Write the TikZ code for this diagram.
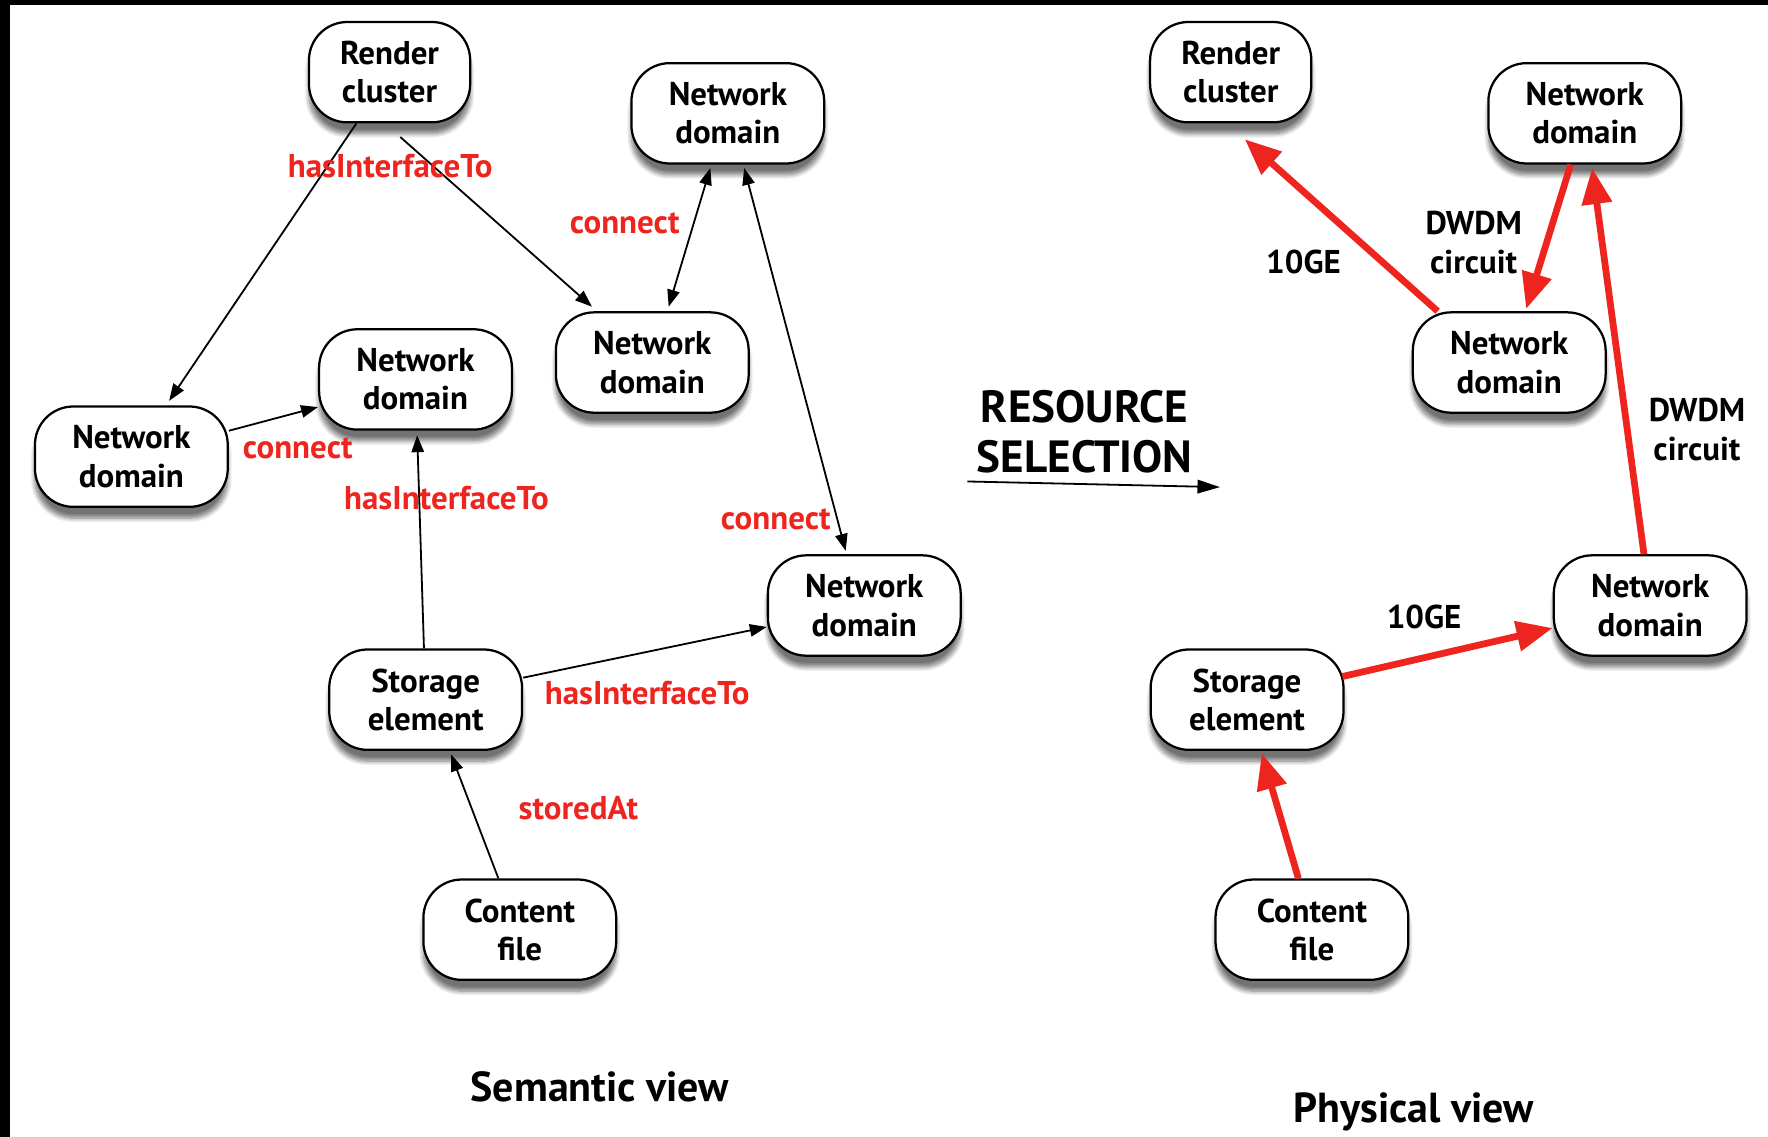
\documentclass[tikz,border=0pt]{standalone}
\usepackage{fontspec}
\setmainfont{PT Sans}
\usetikzlibrary{arrows.meta,calc,shadows.blur}
\definecolor{myred}{RGB}{238,36,30}
\begin{document}
\begin{tikzpicture}[x=0.5pt,y=-0.5pt,
  box/.style={draw, line width=1pt, fill=white, rounded corners=17pt,
    minimum width=85.5pt, minimum height=44.5pt, align=center, inner sep=0pt,
    font=\fontsize{14.6}{17}\selectfont\bfseries,
    blur shadow={shadow xshift=0pt, shadow yshift=-5pt, shadow opacity=55, shadow blur steps=8}},
  narrow/.style={minimum width=71.5pt},
  sem/.style={-{Triangle[length=7.5pt,width=5.5pt]}, line width=0.8pt},
  semboth/.style={{Triangle[length=7.5pt,width=5.5pt]}-{Triangle[length=7.5pt,width=5.5pt]}, line width=0.8pt},
  phys/.style={-{Triangle[length=16pt,width=13pt]}, line width=3pt, draw=myred},
  lbl/.style={text=myred, font=\fontsize{14.6}{17}\selectfont\bfseries, inner sep=0pt},
  plbl/.style={font=\fontsize{14.6}{17}\selectfont\bfseries, align=center, inner sep=0pt},
  big/.style={font=\fontsize{20}{22}\selectfont\bfseries, align=center, inner sep=0pt},
  title/.style={font=\fontsize{18.6}{22}\selectfont\bfseries, inner sep=0pt}]
\useasboundingbox (0,0) rectangle (1568,1008);
\fill[black] (0,0) rectangle (1568,4.5);
\fill[black] (0,0) rectangle (8.5,1008);

% ---------- Semantic view ----------
\node[box,narrow] (rcL) at (345.5,64) {Render\\cluster};
\node[box] (ndT) at (645.5,100.5) {Network\\domain};
\node[box] (ndM) at (578.5,321.5) {Network\\domain};
\node[box] (ndC) at (368.5,336.5) {Network\\domain};
\node[box] (ndL) at (116.5,405) {Network\\domain};
\node[box] (ndR) at (766.5,537) {Network\\domain};
\node[box] (seL) at (377.5,620.5) {Storage\\element};
\node[box] (cfL) at (461,824.5) {Content\\file};

\draw[sem] ($(rcL.south)+(-29.5,0)$) -- ($(ndL.north)+(33.5,-4)$);
\draw[sem] ($(rcL.south)+(9.5,12)$) -- ($(ndM.north)+(-53.5,-4)$);
\draw[semboth] ($(ndT.south)+(-15.5,3)$) -- ($(ndM.north)+(14.5,-4)$);
\draw[semboth] ($(ndT.south)+(14.5,3)$) -- ($(ndR.north)+(-16.5,-3)$);
\draw[sem] ($(ndL.east)+(0,-23)$) -- ($(ndC.west)+(0,24.5)$);
\draw[sem] ($(seL.north)+(-1.5,0)$) -- ($(ndC.south)+(1.5,4)$);
\draw[sem] ($(seL.east)+(0,-19.5)$) -- ($(ndR.west)+(0,19)$);
\draw[sem] ($(cfL.north)+(-19,0)$) -- ($(seL.south)+(22.5,3)$);

\node[lbl] (l1) at (346,147) {hasInterfaceTo};
\node[lbl] (l2) at (554,198) {connect};
\node[lbl] (l3) at (264,398) {connect};
\node[lbl] (l4) at (396,442) {hasInterfaceTo};
\node[lbl] (l5) at (688,461) {connect};
\node[lbl] (l6) at (574,615) {hasInterfaceTo};
\node[lbl] (l7) at (513,717) {storedAt};

% ---------- Middle ----------
\node[big] (rs) at (962,383) {RESOURCE\\SELECTION};
\coordinate (ma) at (858,427);
\coordinate (mb) at (1082,432);
\draw[-{Triangle[length=10pt,width=6pt]}, line width=0.8pt] (ma) -- (mb);

% ---------- Physical view ----------
\node[box,narrow] (rcR) at (1091.5,64) {Render\\cluster};
\node[box] (ndRT) at (1405.5,100.5) {Network\\domain};
\node[box] (ndRM) at (1338.5,321.5) {Network\\domain};
\node[box] (ndRR) at (1463.5,537) {Network\\domain};
\node[box] (seR) at (1106,620.5) {Storage\\element};
\node[box] (cfR) at (1163.5,824.5) {Content\\file};

\draw[phys] ($(ndRM.north)+(-63.5,0)$) -- ($(rcR.south)+(12.5,14)$);
\draw[phys] ($(ndRT.south)+(-12.5,0)$) -- ($(ndRM.north)+(15,-2)$);
\draw[phys] ($(ndRR.north)+(-5.5,0)$) -- ($(ndRT.south)+(6.5,3)$);
\draw[phys] ($(seR.east)+(-2,-20.5)$) -- ($(ndRR.west)+(0,20)$);
\draw[phys] ($(cfR.north)+(-12,0)$) -- ($(seR.south)+(13,2)$);

\node[plbl] (p1) at (1156,232) {10GE};
\node[plbl] (p2) at (1307,215) {DWDM\\circuit};
\node[plbl] (p3) at (1505,381) {DWDM\\circuit};
\node[plbl] (p4) at (1263,547) {10GE};

% ---------- Titles ----------
\node[title] (t1) at (532,964) {Semantic view};
\node[title] (t2) at (1254,986) {Physical view};
\end{tikzpicture}
\end{document}
